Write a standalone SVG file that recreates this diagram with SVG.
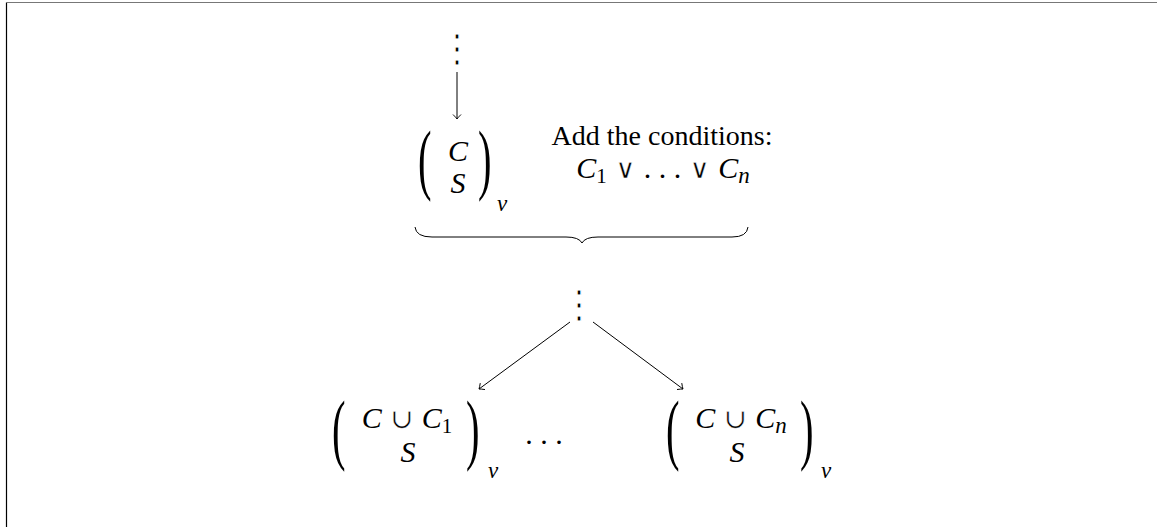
<svg xmlns="http://www.w3.org/2000/svg" width="1157" height="527" viewBox="0 0 1157 527">
<style>
.t{font-family:"Liberation Serif","Times New Roman","DejaVu Serif",serif;font-size:28px;fill:#000}
.x{font-size:30px}
.m{font-style:italic}
.sub{font-size:23px}
.sub2{font-size:21px;font-style:normal}
.op{font-family:"DejaVu Serif",serif;font-size:27px;stroke:#fff;stroke-width:0.45;paint-order:fill}
.vd{font-family:"DejaVu Serif",serif;font-size:38px;stroke:#fff;stroke-width:1.2;paint-order:fill}
.conn{stroke:#000;stroke-width:1;fill:none}
</style>
<defs>
<marker id="arr" viewBox="-6 -5 8 10" markerWidth="8" markerHeight="10" refX="0" refY="0" orient="auto" markerUnits="userSpaceOnUse">
<path d="M -4.5 -4 Q -1.5 -1 0 0 Q -1.5 1 -4.5 4" stroke="#000" stroke-width="0.9" fill="none"/>
</marker>
</defs>
<rect width="1157" height="527" fill="#fff"/>
<line x1="6.5" y1="2.5" x2="6.5" y2="527" stroke="#000" stroke-width="1.2"/>
<line x1="6" y1="2.5" x2="1157" y2="2.5" stroke="#777" stroke-width="1.2"/>

<g id="dots-top">
<text class="t vd" x="457" y="62" text-anchor="middle">⋮</text>
</g>

<g id="node-top">
<text class="t" transform="translate(418,185) scale(1.45,2.8)">(</text>
<text class="t x m" x="458" y="161" text-anchor="middle">C</text>
<text class="t x m" x="458" y="193" text-anchor="middle">S</text>
<text class="t" transform="translate(478,185) scale(1.45,2.8)">)</text>
<text class="t m sub" x="497" y="211">v</text>
</g>

<g id="label">
<text class="t" x="662" y="145" text-anchor="middle">Add the conditions:</text>
<text class="t x" x="663" y="178" text-anchor="middle"><tspan class="m">C</tspan><tspan class="sub2" dy="5">1</tspan><tspan class="op" dy="-5"> ∨ </tspan><tspan>. . .</tspan><tspan class="op"> ∨ </tspan><tspan class="m">C</tspan><tspan class="m sub" dy="5">n</tspan></text>
</g>

<g id="brace">
<path class="conn" stroke-width="1.4" d="M 415 227 Q 416 237 432 237 L 566 237 Q 579 237 582 243 Q 585 237 598 237 L 732 237 Q 747 237 748 227"/>
</g>

<g id="dots-mid">
<text class="t vd" x="579" y="318" text-anchor="middle">⋮</text>
</g>

<g id="node-left">
<text class="t" transform="translate(332,455) scale(1.45,2.8)">(</text>
<text class="t x" x="407" y="428" text-anchor="middle"><tspan class="m">C</tspan><tspan class="op"> ∪ </tspan><tspan class="m">C</tspan><tspan class="sub2" dy="5">1</tspan></text>
<text class="t x m" x="408" y="462" text-anchor="middle">S</text>
<text class="t" transform="translate(466,455) scale(1.45,2.8)">)</text>
<text class="t m sub" x="488" y="478">v</text>
</g>

<g id="ellipsis">
<text class="t x" x="544" y="444" text-anchor="middle">. . .</text>
</g>

<g id="node-right">
<text class="t" transform="translate(666,455) scale(1.45,2.8)">(</text>
<text class="t x" x="741" y="428" text-anchor="middle"><tspan class="m">C</tspan><tspan class="op"> ∪ </tspan><tspan class="m">C</tspan><tspan class="m sub" dy="5">n</tspan></text>
<text class="t x m" x="737" y="462" text-anchor="middle">S</text>
<text class="t" transform="translate(800,455) scale(1.45,2.8)">)</text>
<text class="t m sub" x="821" y="478">v</text>
</g>

<g id="connectors">
<line class="conn" x1="457" y1="72" x2="457" y2="119" marker-end="url(#arr)"/>
<line class="conn" x1="570" y1="322" x2="479" y2="389" marker-end="url(#arr)"/>
<line class="conn" x1="593" y1="322" x2="683" y2="389" marker-end="url(#arr)"/>
</g>
</svg>
